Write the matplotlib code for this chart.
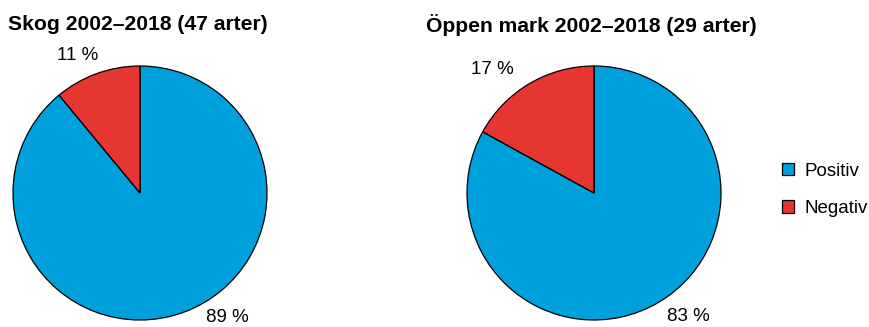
import matplotlib.pyplot as plt
from matplotlib.patches import Patch

plt.rcParams['font.family'] = ['Liberation Sans', 'DejaVu Sans']

# data
categories = ['Positiv', 'Negativ']
skog = [89, 11]
oppen = [83, 17]
titles = ['Skog 2002\u20132018 (47 arter)', '\u00d6ppen mark 2002\u20132018 (29 arter)']
colors = ['#00a0dc', '#e63632']

W, H = 870, 327
fig = plt.figure(figsize=(W / 100, H / 100), dpi=100)

def pie_axes(cx, cy, r):
    # axes box in figure fraction from pixel center/radius
    return fig.add_axes([(cx - r) / W, (H - cy - r) / H, 2 * r / W, 2 * r / H])

ax1 = pie_axes(140, 193, 127)
ax2 = pie_axes(594, 193, 127)

# label positions (in pie radius units)
label_pos = [[(0.69, -0.98), (-0.49, 1.08)], [(0.74, -0.97), (-0.80, 0.97)]]

for ax, vals, title, lp in zip([ax1, ax2], [skog, oppen], titles, label_pos):
    ax.pie(vals, colors=colors, startangle=90, counterclock=False,
           wedgeprops=dict(edgecolor='black', linewidth=0.9))
    ax.set_xlim(-1, 1)
    ax.set_ylim(-1, 1)
    ax.set_aspect('equal')
    ax.axis('off')
    for v, (x, y) in zip(vals, lp):
        ax.text(x, y, f'{v} %', ha='center', va='center', fontsize=13.5)

fig.text(8 / W, 1 - 25 / H, titles[0], fontsize=15.2, weight='bold', ha='left', va='center')
fig.text(757 / W, 1 - 25 / H, titles[1], fontsize=15.2, weight='bold', ha='right', va='center')

handles = [Patch(facecolor=c, edgecolor='black', linewidth=0.9) for c in colors]
fig.legend(handles, categories, loc='center left', bbox_to_anchor=(776 / W, 1 - 190 / H),
           frameon=False, fontsize=13.5, handlelength=0.65, handleheight=0.65,
           handletextpad=0.55, labelspacing=1.1, borderaxespad=0, borderpad=0.3)

fig.savefig('out.png', dpi=100)
